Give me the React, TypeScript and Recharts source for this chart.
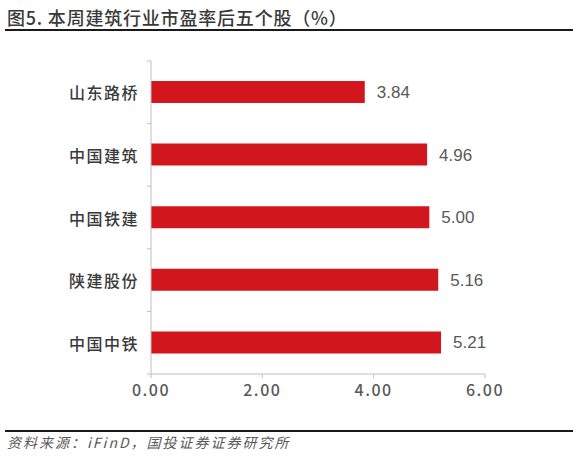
import React from "react";
import { BarChart, Bar, XAxis, YAxis, LabelList } from "recharts";

const categories = ["山东路桥", "中国建筑", "中国铁建", "陕建股份", "中国中铁"];
const peValues = [3.84, 4.96, 5.0, 5.16, 5.21];
const xTicks = [0, 2, 4, 6];
const titleText = "图5. 本周建筑行业市盈率后五个股（%）";
const sourceText = "资料来源：iFinD，国投证券证券研究所";

const data = categories.map((name, i) => ({ name, value: peValues[i] }));

const BAND = 313 / categories.length;

const YTick = (props: any) => {
  const { x, y, payload, index } = props;
  const ax = x;
  return (
    <g>
      <text
        x={ax - 12}
        y={y}
        textAnchor="end"
        dominantBaseline="central"
        fill="#3a3a3a"
        fontSize={16}
        fontWeight={500}
        letterSpacing={1.5}
        fontFamily="'Noto Sans CJK SC', sans-serif"
      >
        {payload.value}
      </text>
      <line x1={ax - 4} x2={ax} y1={y - BAND / 2} y2={y - BAND / 2} stroke="#bfbfbf" />
      {index === categories.length - 1 && (
        <line x1={ax - 4} x2={ax} y1={y + BAND / 2} y2={y + BAND / 2} stroke="#bfbfbf" />
      )}
    </g>
  );
};

export default function App() {
  return (
    <div style={{ position: "absolute", left: 0, top: 0, width: 578, height: 456, background: "#fff" }}>
      <div
        style={{
          position: "absolute",
          left: 7,
          top: 5,
          fontFamily: "'Noto Sans CJK SC', sans-serif",
          fontSize: 18,
          fontWeight: 500,
          letterSpacing: 0.8,
          color: "#3a3a3a",
          whiteSpace: "nowrap",
          lineHeight: "24px",
        }}
      >
        {titleText}
      </div>
      <div style={{ position: "absolute", left: 5, top: 29, width: 568, height: 2, background: "#1a1a1a" }} />
      <BarChart
        width={578}
        height={456}
        data={data}
        layout="vertical"
        margin={{ top: 61, right: 93, bottom: 52, left: 0 }}
        barCategoryGap={0}
      >
        <XAxis
          type="number"
          domain={[0, 6]}
          ticks={xTicks}
          height={30}
          axisLine={{ stroke: "#bfbfbf" }}
          tickLine={{ stroke: "#bfbfbf" }}
          tickSize={4}
          tickMargin={7}
          tickFormatter={(v: number) => v.toFixed(2)}
          tick={{ fill: "#595959", fontSize: 16, fontWeight: 500, letterSpacing: 1.5, fontFamily: "'Noto Sans CJK SC', sans-serif" }}
        />
        <YAxis
          type="category"
          dataKey="name"
          width={151}
          axisLine={{ stroke: "#bfbfbf" }}
          tickLine={false}
          tickSize={0}
          tickMargin={0}
          tick={<YTick />}
          interval={0}
        />
        <Bar dataKey="value" fill="#D2161E" barSize={22} isAnimationActive={false}>
          <LabelList
            dataKey="value"
            position="right"
            offset={12}
            formatter={(v: number) => v.toFixed(2)}
            fill="#595959"
            fontSize={17}
            fontFamily="'Liberation Sans', Arial, sans-serif"
          />
        </Bar>
      </BarChart>
      <div style={{ position: "absolute", left: 5, top: 430, width: 568, height: 2, background: "#1a1a1a" }} />
      <div
        style={{
          position: "absolute",
          left: 7,
          top: 432,
          fontFamily: "'Noto Sans CJK SC', sans-serif",
          fontSize: 14,
          fontStyle: "italic",
          letterSpacing: 2,
          color: "#595959",
          whiteSpace: "nowrap",
          lineHeight: "20px",
        }}
      >
        {sourceText}
      </div>
    </div>
  );
}
